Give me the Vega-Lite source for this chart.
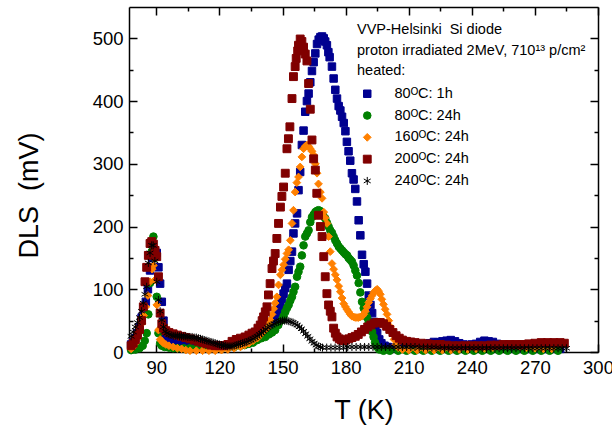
{
"$schema": "https://vega.github.io/schema/vega-lite/v6.json",
"width": 469, "height": 345,
"autosize": {"type": "none"},
"padding": {"left": 129, "top": 7, "right": 14, "bottom": 78},
"background": "white",
"config": {"view": {"stroke": null}, "font": "Liberation Sans",
 "axis": {"grid": false, "zindex": 1, "domainColor": "black", "domainWidth": 1.5, "tickColor": "black", "tickWidth": 1.5, "labelColor": "black", "titleColor": "black", "labelFont": "Liberation Sans", "titleFont": "Liberation Sans", "titleFontWeight": "normal", "labelFlush": false, "labelOverlap": false, "labelBound": false}},
"datasets": {"d": [
{"s":"a","T":78,"v":12},{"s":"a","T":79,"v":16},{"s":"a","T":80,"v":22},{"s":"a","T":81,"v":30},{"s":"a","T":82,"v":40},{"s":"a","T":83,"v":55},{"s":"a","T":84,"v":68},{"s":"a","T":85,"v":80},{"s":"a","T":86,"v":100},{"s":"a","T":87,"v":130},{"s":"a","T":88,"v":150},{"s":"a","T":89,"v":162},{"s":"a","T":90.2,"v":158},{"s":"a","T":91,"v":135},{"s":"a","T":91.8,"v":109},{"s":"a","T":92.6,"v":80},{"s":"a","T":93.4,"v":50},{"s":"a","T":94.2,"v":30},{"s":"a","T":95,"v":22},{"s":"a","T":96,"v":18},{"s":"a","T":98,"v":16},{"s":"a","T":100,"v":15},{"s":"a","T":102,"v":14},{"s":"a","T":104,"v":14},{"s":"a","T":106,"v":13},{"s":"a","T":108,"v":13},{"s":"a","T":110,"v":12},{"s":"a","T":112,"v":11},{"s":"a","T":114,"v":11},{"s":"a","T":116,"v":10},{"s":"a","T":118,"v":10},{"s":"a","T":120,"v":10},{"s":"a","T":122,"v":10},{"s":"a","T":124,"v":10},{"s":"a","T":126,"v":11},{"s":"a","T":128,"v":12},{"s":"a","T":130,"v":13},{"s":"a","T":132,"v":15},{"s":"a","T":134,"v":18},{"s":"a","T":136,"v":22},{"s":"a","T":138,"v":26},{"s":"a","T":139.5,"v":30},{"s":"a","T":141,"v":35},{"s":"a","T":142.5,"v":40},{"s":"a","T":144,"v":46},{"s":"a","T":145.5,"v":52},{"s":"a","T":146.5,"v":56},{"s":"a","T":147.3,"v":59},{"s":"a","T":148.2,"v":68},{"s":"a","T":149,"v":77},{"s":"a","T":149.8,"v":85},{"s":"a","T":150.5,"v":93},{"s":"a","T":151.3,"v":102},{"s":"a","T":152.1,"v":109},{"s":"a","T":152.9,"v":131},{"s":"a","T":153.7,"v":145},{"s":"a","T":154.5,"v":160},{"s":"a","T":155.2,"v":189},{"s":"a","T":156,"v":205},{"s":"a","T":156.9,"v":221},{"s":"a","T":157.6,"v":258},{"s":"a","T":158.4,"v":287},{"s":"a","T":159.2,"v":330},{"s":"a","T":160,"v":353},{"s":"a","T":160.8,"v":383},{"s":"a","T":161.6,"v":400},{"s":"a","T":162.4,"v":412},{"s":"a","T":163.2,"v":430},{"s":"a","T":164,"v":448},{"s":"a","T":164.8,"v":462},{"s":"a","T":165.6,"v":476},{"s":"a","T":166.4,"v":491},{"s":"a","T":167.2,"v":498},{"s":"a","T":168,"v":502},{"s":"a","T":168.8,"v":503},{"s":"a","T":169.6,"v":500},{"s":"a","T":170.3,"v":495},{"s":"a","T":171.1,"v":489},{"s":"a","T":171.8,"v":478},{"s":"a","T":172.4,"v":470},{"s":"a","T":173.5,"v":455},{"s":"a","T":174.3,"v":436},{"s":"a","T":175.1,"v":418},{"s":"a","T":175.9,"v":404},{"s":"a","T":176.7,"v":392},{"s":"a","T":177.5,"v":385},{"s":"a","T":178.3,"v":375},{"s":"a","T":179.1,"v":365},{"s":"a","T":179.9,"v":352},{"s":"a","T":180.6,"v":335},{"s":"a","T":181.4,"v":320},{"s":"a","T":182.2,"v":305},{"s":"a","T":183,"v":285},{"s":"a","T":183.8,"v":275},{"s":"a","T":184.6,"v":260},{"s":"a","T":185.4,"v":240},{"s":"a","T":186.2,"v":210},{"s":"a","T":187,"v":186},{"s":"a","T":187.8,"v":155},{"s":"a","T":188.6,"v":140},{"s":"a","T":189.4,"v":128},{"s":"a","T":190.2,"v":109},{"s":"a","T":191,"v":90},{"s":"a","T":191.8,"v":75},{"s":"a","T":192.6,"v":62},{"s":"a","T":193.4,"v":48},{"s":"a","T":194.2,"v":38},{"s":"a","T":195,"v":30},{"s":"a","T":196,"v":20},{"s":"a","T":197,"v":14},{"s":"a","T":198.5,"v":10},{"s":"a","T":200,"v":8},{"s":"a","T":202,"v":7},{"s":"a","T":204,"v":6},{"s":"a","T":206,"v":6},{"s":"a","T":208,"v":6},{"s":"a","T":210,"v":6},{"s":"a","T":212,"v":6},{"s":"a","T":214,"v":7},{"s":"a","T":216,"v":9},{"s":"a","T":218,"v":12},{"s":"a","T":220,"v":14},{"s":"a","T":222,"v":16},{"s":"a","T":224,"v":15},{"s":"a","T":226,"v":17},{"s":"a","T":228,"v":18},{"s":"a","T":230,"v":19},{"s":"a","T":232,"v":17},{"s":"a","T":234,"v":14},{"s":"a","T":236,"v":12},{"s":"a","T":238,"v":11},{"s":"a","T":240,"v":12},{"s":"a","T":242,"v":13},{"s":"a","T":244,"v":16},{"s":"a","T":246,"v":18},{"s":"a","T":248,"v":17},{"s":"a","T":250,"v":16},{"s":"a","T":252,"v":13},{"s":"a","T":254,"v":11},{"s":"a","T":256,"v":8},{"s":"a","T":258,"v":6},{"s":"a","T":261,"v":5},{"s":"a","T":264,"v":5},{"s":"a","T":267,"v":5},{"s":"a","T":270,"v":5},{"s":"a","T":273,"v":5},{"s":"a","T":276,"v":5},{"s":"a","T":279,"v":5},{"s":"a","T":282,"v":5},
{"s":"b","T":78,"v":3},{"s":"b","T":80,"v":4},{"s":"b","T":82,"v":6},{"s":"b","T":83.5,"v":10},{"s":"b","T":84.5,"v":18},{"s":"b","T":85.4,"v":30},{"s":"b","T":86.2,"v":60},{"s":"b","T":87,"v":110},{"s":"b","T":87.8,"v":160},{"s":"b","T":88.6,"v":184},{"s":"b","T":89.4,"v":150},{"s":"b","T":90.2,"v":88},{"s":"b","T":91,"v":30},{"s":"b","T":91.8,"v":14},{"s":"b","T":92.6,"v":10},{"s":"b","T":94,"v":8},{"s":"b","T":96,"v":7},{"s":"b","T":98,"v":6},{"s":"b","T":100,"v":6},{"s":"b","T":103,"v":6},{"s":"b","T":106,"v":6},{"s":"b","T":109,"v":6},{"s":"b","T":112,"v":6},{"s":"b","T":115,"v":6},{"s":"b","T":118,"v":6},{"s":"b","T":121,"v":6},{"s":"b","T":124,"v":7},{"s":"b","T":127,"v":8},{"s":"b","T":130,"v":10},{"s":"b","T":132,"v":11},{"s":"b","T":134,"v":13},{"s":"b","T":136,"v":15},{"s":"b","T":138,"v":19},{"s":"b","T":140,"v":22},{"s":"b","T":141.8,"v":24},{"s":"b","T":143.5,"v":28},{"s":"b","T":145,"v":31},{"s":"b","T":146.5,"v":35},{"s":"b","T":148,"v":43},{"s":"b","T":149.7,"v":51},{"s":"b","T":150.5,"v":57},{"s":"b","T":151.3,"v":64},{"s":"b","T":152.1,"v":70},{"s":"b","T":152.9,"v":75},{"s":"b","T":153.7,"v":82},{"s":"b","T":154.5,"v":88},{"s":"b","T":155.2,"v":96},{"s":"b","T":156,"v":104},{"s":"b","T":156.9,"v":120},{"s":"b","T":157.6,"v":128},{"s":"b","T":158.4,"v":136},{"s":"b","T":159.2,"v":154},{"s":"b","T":160,"v":170},{"s":"b","T":160.8,"v":184},{"s":"b","T":161.6,"v":189},{"s":"b","T":162.4,"v":194},{"s":"b","T":163.2,"v":207},{"s":"b","T":164,"v":215},{"s":"b","T":164.8,"v":219},{"s":"b","T":165.6,"v":223},{"s":"b","T":166.4,"v":225},{"s":"b","T":167.1,"v":226},{"s":"b","T":167.8,"v":225},{"s":"b","T":168.6,"v":221},{"s":"b","T":169.4,"v":217},{"s":"b","T":170.3,"v":213},{"s":"b","T":171.1,"v":206},{"s":"b","T":171.9,"v":200},{"s":"b","T":172.7,"v":194},{"s":"b","T":173.5,"v":190},{"s":"b","T":174.3,"v":184},{"s":"b","T":175.1,"v":178},{"s":"b","T":175.9,"v":173},{"s":"b","T":176.7,"v":168},{"s":"b","T":177.5,"v":165},{"s":"b","T":178.3,"v":162},{"s":"b","T":179.1,"v":159},{"s":"b","T":179.9,"v":156},{"s":"b","T":180.7,"v":154},{"s":"b","T":181.4,"v":150},{"s":"b","T":182.2,"v":147},{"s":"b","T":183,"v":144},{"s":"b","T":183.8,"v":138},{"s":"b","T":184.6,"v":130},{"s":"b","T":185.4,"v":122},{"s":"b","T":186.2,"v":110},{"s":"b","T":187,"v":95},{"s":"b","T":187.8,"v":80},{"s":"b","T":188.6,"v":70},{"s":"b","T":189.4,"v":62},{"s":"b","T":190.2,"v":55},{"s":"b","T":191,"v":48},{"s":"b","T":191.8,"v":40},{"s":"b","T":192.6,"v":32},{"s":"b","T":193.3,"v":24},{"s":"b","T":194,"v":15},{"s":"b","T":195,"v":8},{"s":"b","T":196,"v":4},{"s":"b","T":198,"v":2},{"s":"b","T":201,"v":2},{"s":"b","T":205,"v":2},{"s":"b","T":209,"v":2},{"s":"b","T":213,"v":2},{"s":"b","T":217,"v":2},{"s":"b","T":221,"v":2},{"s":"b","T":225,"v":2},{"s":"b","T":229,"v":2},{"s":"b","T":233,"v":2},{"s":"b","T":237,"v":2},{"s":"b","T":241,"v":2},{"s":"b","T":245,"v":2},{"s":"b","T":249,"v":2},{"s":"b","T":253,"v":2},{"s":"b","T":257,"v":2},{"s":"b","T":261,"v":2},{"s":"b","T":265,"v":2},{"s":"b","T":269,"v":2},{"s":"b","T":273,"v":2},{"s":"b","T":277,"v":2},{"s":"b","T":281,"v":2},
{"s":"c","T":78,"v":5},{"s":"c","T":79,"v":8},{"s":"c","T":80,"v":14},{"s":"c","T":81,"v":22},{"s":"c","T":82,"v":32},{"s":"c","T":83,"v":45},{"s":"c","T":84,"v":58},{"s":"c","T":85,"v":72},{"s":"c","T":86,"v":90},{"s":"c","T":87,"v":112},{"s":"c","T":88,"v":132},{"s":"c","T":88.6,"v":138},{"s":"c","T":89.4,"v":115},{"s":"c","T":90.2,"v":75},{"s":"c","T":91,"v":35},{"s":"c","T":91.8,"v":20},{"s":"c","T":92.6,"v":17},{"s":"c","T":93.4,"v":14},{"s":"c","T":94.5,"v":12},{"s":"c","T":96,"v":10},{"s":"c","T":98,"v":8},{"s":"c","T":100,"v":6},{"s":"c","T":102,"v":5},{"s":"c","T":104,"v":3},{"s":"c","T":106,"v":2},{"s":"c","T":109,"v":2},{"s":"c","T":112,"v":2},{"s":"c","T":115,"v":2},{"s":"c","T":118,"v":2},{"s":"c","T":121,"v":3},{"s":"c","T":124,"v":4},{"s":"c","T":127,"v":6},{"s":"c","T":130,"v":8},{"s":"c","T":132,"v":11},{"s":"c","T":134,"v":14},{"s":"c","T":136,"v":18},{"s":"c","T":138,"v":22},{"s":"c","T":139.4,"v":27},{"s":"c","T":140.5,"v":32},{"s":"c","T":141.5,"v":35},{"s":"c","T":142.6,"v":38},{"s":"c","T":143.4,"v":45},{"s":"c","T":144.1,"v":51},{"s":"c","T":145,"v":60},{"s":"c","T":145.8,"v":69},{"s":"c","T":146.5,"v":78},{"s":"c","T":147.3,"v":88},{"s":"c","T":148.1,"v":107},{"s":"c","T":149,"v":123},{"s":"c","T":149.7,"v":131},{"s":"c","T":150.5,"v":139},{"s":"c","T":151.3,"v":148},{"s":"c","T":152.1,"v":157},{"s":"c","T":152.9,"v":163},{"s":"c","T":153.7,"v":178},{"s":"c","T":154.5,"v":205},{"s":"c","T":155.2,"v":226},{"s":"c","T":156,"v":255},{"s":"c","T":156.8,"v":270},{"s":"c","T":157.6,"v":279},{"s":"c","T":158.4,"v":295},{"s":"c","T":159.2,"v":311},{"s":"c","T":160,"v":324},{"s":"c","T":160.8,"v":328},{"s":"c","T":161.6,"v":330},{"s":"c","T":162.4,"v":328},{"s":"c","T":163.2,"v":324},{"s":"c","T":164,"v":320},{"s":"c","T":164.8,"v":314},{"s":"c","T":165.6,"v":300},{"s":"c","T":166.4,"v":285},{"s":"c","T":167.1,"v":268},{"s":"c","T":168,"v":255},{"s":"c","T":168.8,"v":245},{"s":"c","T":169.6,"v":223},{"s":"c","T":170.3,"v":214},{"s":"c","T":171.1,"v":205},{"s":"c","T":171.9,"v":184},{"s":"c","T":172.7,"v":160},{"s":"c","T":173.5,"v":141},{"s":"c","T":174.3,"v":132},{"s":"c","T":175.1,"v":123},{"s":"c","T":175.9,"v":115},{"s":"c","T":176.7,"v":105},{"s":"c","T":177.5,"v":96},{"s":"c","T":178.3,"v":86},{"s":"c","T":179.1,"v":77},{"s":"c","T":179.9,"v":72},{"s":"c","T":180.6,"v":68},{"s":"c","T":181.4,"v":64},{"s":"c","T":182.2,"v":60},{"s":"c","T":183,"v":57},{"s":"c","T":183.8,"v":56},{"s":"c","T":184.6,"v":55},{"s":"c","T":185.4,"v":55},{"s":"c","T":186.2,"v":55},{"s":"c","T":187,"v":56},{"s":"c","T":187.8,"v":57},{"s":"c","T":188.6,"v":60},{"s":"c","T":189.4,"v":65},{"s":"c","T":190.2,"v":72},{"s":"c","T":191,"v":79},{"s":"c","T":191.8,"v":85},{"s":"c","T":192.6,"v":90},{"s":"c","T":193.4,"v":95},{"s":"c","T":194.2,"v":98},{"s":"c","T":195,"v":100},{"s":"c","T":195.7,"v":97},{"s":"c","T":196.5,"v":92},{"s":"c","T":197.2,"v":84},{"s":"c","T":198,"v":76},{"s":"c","T":198.8,"v":68},{"s":"c","T":199.7,"v":60},{"s":"c","T":200.5,"v":50},{"s":"c","T":201.3,"v":40},{"s":"c","T":202,"v":30},{"s":"c","T":203,"v":20},{"s":"c","T":204,"v":12},{"s":"c","T":205,"v":7},{"s":"c","T":207,"v":4},{"s":"c","T":210,"v":3},{"s":"c","T":214,"v":3},{"s":"c","T":218,"v":3},{"s":"c","T":222,"v":3},{"s":"c","T":226,"v":3},{"s":"c","T":230,"v":3},{"s":"c","T":234,"v":4},{"s":"c","T":238,"v":4},{"s":"c","T":242,"v":5},{"s":"c","T":246,"v":6},{"s":"c","T":250,"v":7},{"s":"c","T":253,"v":9},{"s":"c","T":255,"v":11},{"s":"c","T":257,"v":10},{"s":"c","T":259,"v":12},{"s":"c","T":261,"v":11},{"s":"c","T":263,"v":9},{"s":"c","T":266,"v":7},{"s":"c","T":270,"v":6},{"s":"c","T":274,"v":5},{"s":"c","T":278,"v":5},
{"s":"d","T":78,"v":10},{"s":"d","T":79,"v":14},{"s":"d","T":80,"v":20},{"s":"d","T":81,"v":27},{"s":"d","T":82,"v":36},{"s":"d","T":83,"v":50},{"s":"d","T":83.8,"v":72},{"s":"d","T":84.6,"v":112},{"s":"d","T":85.4,"v":135},{"s":"d","T":86.2,"v":154},{"s":"d","T":87,"v":173},{"s":"d","T":87.8,"v":176},{"s":"d","T":88.6,"v":172},{"s":"d","T":89.4,"v":162},{"s":"d","T":90.2,"v":152},{"s":"d","T":91,"v":120},{"s":"d","T":91.8,"v":62},{"s":"d","T":92.6,"v":45},{"s":"d","T":93.4,"v":38},{"s":"d","T":94.5,"v":34},{"s":"d","T":96,"v":31},{"s":"d","T":98,"v":29},{"s":"d","T":100,"v":27},{"s":"d","T":102,"v":25},{"s":"d","T":104,"v":23},{"s":"d","T":106,"v":21},{"s":"d","T":108,"v":19},{"s":"d","T":110,"v":17},{"s":"d","T":112,"v":15},{"s":"d","T":114,"v":13},{"s":"d","T":116,"v":11},{"s":"d","T":118,"v":10},{"s":"d","T":120,"v":10},{"s":"d","T":122,"v":10},{"s":"d","T":124,"v":12},{"s":"d","T":126,"v":17},{"s":"d","T":128,"v":20},{"s":"d","T":130,"v":22},{"s":"d","T":132.2,"v":24},{"s":"d","T":134,"v":27},{"s":"d","T":135.5,"v":30},{"s":"d","T":137,"v":32},{"s":"d","T":138.3,"v":38},{"s":"d","T":139.4,"v":43},{"s":"d","T":140.3,"v":50},{"s":"d","T":141,"v":56},{"s":"d","T":141.8,"v":64},{"s":"d","T":142.6,"v":72},{"s":"d","T":143.3,"v":91},{"s":"d","T":144.1,"v":109},{"s":"d","T":145,"v":133},{"s":"d","T":145.7,"v":145},{"s":"d","T":146.5,"v":157},{"s":"d","T":147.3,"v":181},{"s":"d","T":148.1,"v":205},{"s":"d","T":149,"v":231},{"s":"d","T":149.7,"v":248},{"s":"d","T":150.5,"v":263},{"s":"d","T":151.3,"v":285},{"s":"d","T":152.1,"v":324},{"s":"d","T":152.8,"v":340},{"s":"d","T":153.5,"v":359},{"s":"d","T":154.5,"v":404},{"s":"d","T":155.2,"v":439},{"s":"d","T":156,"v":455},{"s":"d","T":156.5,"v":468},{"s":"d","T":157.2,"v":480},{"s":"d","T":157.6,"v":489},{"s":"d","T":158.4,"v":499},{"s":"d","T":159.2,"v":495},{"s":"d","T":160,"v":486},{"s":"d","T":160.8,"v":475},{"s":"d","T":161.6,"v":464},{"s":"d","T":162.4,"v":428},{"s":"d","T":163.2,"v":387},{"s":"d","T":164,"v":338},{"s":"d","T":164.8,"v":308},{"s":"d","T":165.6,"v":290},{"s":"d","T":166.3,"v":253},{"s":"d","T":167.1,"v":218},{"s":"d","T":168,"v":200},{"s":"d","T":168.8,"v":184},{"s":"d","T":169.6,"v":152},{"s":"d","T":170.3,"v":120},{"s":"d","T":171.1,"v":93},{"s":"d","T":171.9,"v":75},{"s":"d","T":172.7,"v":65},{"s":"d","T":173.5,"v":56},{"s":"d","T":174.3,"v":38},{"s":"d","T":175.1,"v":30},{"s":"d","T":175.9,"v":24},{"s":"d","T":177,"v":21},{"s":"d","T":178,"v":19},{"s":"d","T":179,"v":18},{"s":"d","T":180,"v":19},{"s":"d","T":181.5,"v":21},{"s":"d","T":183,"v":23},{"s":"d","T":184.6,"v":25},{"s":"d","T":186,"v":28},{"s":"d","T":187.5,"v":32},{"s":"d","T":189,"v":36},{"s":"d","T":190.5,"v":40},{"s":"d","T":192,"v":43},{"s":"d","T":193.5,"v":46},{"s":"d","T":195,"v":47},{"s":"d","T":196.5,"v":47},{"s":"d","T":198,"v":45},{"s":"d","T":199.5,"v":41},{"s":"d","T":201,"v":36},{"s":"d","T":202.5,"v":31},{"s":"d","T":204,"v":26},{"s":"d","T":205.5,"v":22},{"s":"d","T":207,"v":19},{"s":"d","T":209,"v":17},{"s":"d","T":211,"v":16},{"s":"d","T":213,"v":15},{"s":"d","T":216,"v":14},{"s":"d","T":219,"v":13},{"s":"d","T":222,"v":12},{"s":"d","T":225,"v":12},{"s":"d","T":228,"v":11},{"s":"d","T":231,"v":10},{"s":"d","T":234,"v":10},{"s":"d","T":237,"v":10},{"s":"d","T":240,"v":10},{"s":"d","T":243,"v":10},{"s":"d","T":246,"v":10},{"s":"d","T":249,"v":11},{"s":"d","T":252,"v":11},{"s":"d","T":255,"v":12},{"s":"d","T":258,"v":12},{"s":"d","T":261,"v":12},{"s":"d","T":264,"v":12},{"s":"d","T":267,"v":13},{"s":"d","T":270,"v":14},{"s":"d","T":273,"v":15},{"s":"d","T":276,"v":15},{"s":"d","T":279,"v":15},{"s":"d","T":282,"v":15},{"s":"d","T":284,"v":14},
{"s":"e","T":78,"v":25},{"s":"e","T":79,"v":32},{"s":"e","T":80,"v":40},{"s":"e","T":81,"v":47},{"s":"e","T":82,"v":55},{"s":"e","T":83,"v":65},{"s":"e","T":83.8,"v":78},{"s":"e","T":84.6,"v":92},{"s":"e","T":85.4,"v":104},{"s":"e","T":86.2,"v":142},{"s":"e","T":87,"v":158},{"s":"e","T":87.8,"v":170},{"s":"e","T":88.5,"v":170},{"s":"e","T":89.3,"v":145},{"s":"e","T":90.2,"v":112},{"s":"e","T":91,"v":83},{"s":"e","T":91.8,"v":65},{"s":"e","T":92.6,"v":51},{"s":"e","T":93.4,"v":40},{"s":"e","T":94.2,"v":33},{"s":"e","T":95,"v":30},{"s":"e","T":96,"v":28},{"s":"e","T":97,"v":27},{"s":"e","T":98,"v":26},{"s":"e","T":99,"v":26},{"s":"e","T":100,"v":26},{"s":"e","T":101,"v":25},{"s":"e","T":102,"v":25},{"s":"e","T":103,"v":25},{"s":"e","T":104,"v":25},{"s":"e","T":105,"v":24},{"s":"e","T":106,"v":24},{"s":"e","T":107,"v":24},{"s":"e","T":108,"v":23},{"s":"e","T":109,"v":23},{"s":"e","T":110,"v":22},{"s":"e","T":111,"v":21},{"s":"e","T":112,"v":20},{"s":"e","T":113,"v":19},{"s":"e","T":114,"v":18},{"s":"e","T":115,"v":17},{"s":"e","T":116,"v":16},{"s":"e","T":117,"v":15},{"s":"e","T":118,"v":14},{"s":"e","T":119,"v":13},{"s":"e","T":120,"v":12},{"s":"e","T":121,"v":11},{"s":"e","T":122,"v":10},{"s":"e","T":123,"v":10},{"s":"e","T":124,"v":9},{"s":"e","T":125,"v":9},{"s":"e","T":126,"v":9},{"s":"e","T":127,"v":10},{"s":"e","T":128,"v":11},{"s":"e","T":129,"v":12},{"s":"e","T":130,"v":13},{"s":"e","T":131,"v":14},{"s":"e","T":132,"v":15},{"s":"e","T":133,"v":16},{"s":"e","T":134,"v":18},{"s":"e","T":135,"v":19},{"s":"e","T":136,"v":21},{"s":"e","T":137,"v":23},{"s":"e","T":138,"v":25},{"s":"e","T":139,"v":28},{"s":"e","T":140,"v":30},{"s":"e","T":141,"v":33},{"s":"e","T":142,"v":36},{"s":"e","T":143,"v":39},{"s":"e","T":144,"v":41},{"s":"e","T":145,"v":43},{"s":"e","T":146,"v":45},{"s":"e","T":147,"v":47},{"s":"e","T":148,"v":48},{"s":"e","T":149,"v":49},{"s":"e","T":150,"v":50},{"s":"e","T":151,"v":50},{"s":"e","T":152,"v":50},{"s":"e","T":153,"v":49},{"s":"e","T":154,"v":48},{"s":"e","T":155,"v":47},{"s":"e","T":156,"v":45},{"s":"e","T":157,"v":43},{"s":"e","T":158,"v":40},{"s":"e","T":159,"v":37},{"s":"e","T":160,"v":33},{"s":"e","T":161,"v":29},{"s":"e","T":162,"v":25},{"s":"e","T":163,"v":21},{"s":"e","T":164,"v":17},{"s":"e","T":165,"v":14},{"s":"e","T":166,"v":11},{"s":"e","T":167,"v":9},{"s":"e","T":168,"v":8},{"s":"e","T":169,"v":7},{"s":"e","T":171,"v":7},{"s":"e","T":173,"v":7},{"s":"e","T":175,"v":7},{"s":"e","T":177,"v":7},{"s":"e","T":179,"v":7},{"s":"e","T":181,"v":8},{"s":"e","T":183,"v":8},{"s":"e","T":185,"v":8},{"s":"e","T":187,"v":8},{"s":"e","T":189,"v":8},{"s":"e","T":191,"v":8},{"s":"e","T":193,"v":8},{"s":"e","T":195,"v":8},{"s":"e","T":197,"v":8},{"s":"e","T":199,"v":8},{"s":"e","T":201,"v":8},{"s":"e","T":203,"v":8},{"s":"e","T":205,"v":8},{"s":"e","T":207,"v":8},{"s":"e","T":209,"v":8},{"s":"e","T":211,"v":8},{"s":"e","T":213,"v":8},{"s":"e","T":215,"v":7},{"s":"e","T":217,"v":7},{"s":"e","T":219,"v":7},{"s":"e","T":221,"v":7},{"s":"e","T":223,"v":7},{"s":"e","T":225,"v":6},{"s":"e","T":227,"v":6},{"s":"e","T":229,"v":6},{"s":"e","T":231,"v":6},{"s":"e","T":233,"v":6},{"s":"e","T":235,"v":6},{"s":"e","T":237,"v":6},{"s":"e","T":239,"v":6},{"s":"e","T":241,"v":6},{"s":"e","T":243,"v":6},{"s":"e","T":245,"v":6},{"s":"e","T":247,"v":6},{"s":"e","T":249,"v":6},{"s":"e","T":251,"v":6},{"s":"e","T":253,"v":6},{"s":"e","T":255,"v":6},{"s":"e","T":257,"v":6},{"s":"e","T":259,"v":6},{"s":"e","T":261,"v":6},{"s":"e","T":263,"v":6},{"s":"e","T":265,"v":6},{"s":"e","T":267,"v":6},{"s":"e","T":269,"v":6},{"s":"e","T":271,"v":6},{"s":"e","T":273,"v":6},{"s":"e","T":275,"v":6},{"s":"e","T":277,"v":6},{"s":"e","T":279,"v":6},{"s":"e","T":281,"v":6},{"s":"e","T":283,"v":6},{"s":"e","T":285,"v":6}
]},
"data": {"name": "d"},
"resolve": {"axis": {"x": "independent", "y": "independent"}},
"layer": [
 {"mark": {"type": "point", "filled": true, "opacity": 1},
  "encoding": {
   "x": {"field": "T", "type": "quantitative", "scale": {"domain": [77, 300], "nice": false, "zero": false},
     "axis": {"orient": "bottom", "values": [90,105,120,135,150,165,180,195,210,225,240,255,270,285,300], "labelExpr": "datum.value % 30 == 0 ? datum.label : ''", "tickSize": {"condition": {"test": "datum.value % 30 == 0", "value": -8}, "value": -4}, "labelPadding": 14, "labelFontSize": 18.5, "title": "T (K)", "titleFontSize": 27, "titlePadding": 17}},
   "y": {"field": "v", "type": "quantitative", "scale": {"domain": [0, 550], "nice": false},
     "axis": {"orient": "left", "values": [0,50,100,150,200,250,300,350,400,450,500], "labelExpr": "datum.value % 100 == 0 ? datum.label : ''", "tickSize": {"condition": {"test": "datum.value % 100 == 0", "value": -8}, "value": -4}, "labelPadding": 14, "labelFontSize": 18.5, "title": "DLS\u00a0\u00a0(mV)", "titleFontSize": 27, "titlePadding": 49, "titleY": 188}},
   "color": {"field": "s", "type": "nominal", "scale": {"domain": ["a","b","c","d","e"], "range": ["#000090","#008000","#FF8000","#800000","#000000"]},
     "legend": {"orient": "none", "legendX": 228, "legendY": 16, "title": ["VVP-Helsinki\u00a0\u00a0Si diode", "proton irradiated 2MeV, 710\u00b9\u00b3 p/cm\u00b2", "heated:"], "titleFontSize": 14.5, "titleFontWeight": "normal", "titleLineHeight": 20.5, "titleFont": "Liberation Sans", "titleColor": "black", "titleLimit": 400, "titlePadding": 8, "labelFont": "Liberation Sans", "labelFontSize": 14.5, "labelColor": "black", "labelOffset": 20, "symbolOffset": 3, "rowPadding": 6.8, "padding": 0,
       "labelExpr": "datum.label == 'a' ? '80\u1d3cC: 1h' : datum.label == 'b' ? '80\u1d3cC: 24h' : datum.label == 'c' ? '160\u1d3cC: 24h' : datum.label == 'd' ? '200\u1d3cC: 24h' : '240\u1d3cC: 24h'"}},
   "stroke": {"field": "s", "type": "nominal", "scale": {"domain": ["a","b","c","d","e"], "range": ["#000090","#008000","#FF8000","#800000","#000000"]}},
   "strokeWidth": {"field": "s", "type": "nominal", "scale": {"domain": ["a","b","c","d","e"], "range": [1, 1, 1, 1, 1.7]}},
   "shape": {"field": "s", "type": "nominal", "scale": {"domain": ["a","b","c","d","e"], "range": ["square","circle","diamond","square","M0,-1L0,1M-0.87,-0.5L0.87,0.5M-0.87,0.5L0.87,-0.5"]}},
   "size": {"field": "s", "type": "ordinal", "scale": {"domain": ["a","b","c","d","e"], "range": [56, 64, 100, 56, 120]}}
  }},
 {"mark": {"type": "point", "opacity": 0},
  "encoding": {
   "x": {"field": "T", "type": "quantitative", "axis": {"orient": "top", "values": [90,105,120,135,150,165,180,195,210,225,240,255,270,285,300], "labels": false, "title": null, "tickSize": {"condition": {"test": "datum.value % 30 == 0", "value": -8}, "value": -4}}},
   "y": {"field": "v", "type": "quantitative", "axis": {"orient": "right", "values": [0,50,100,150,200,250,300,350,400,450,500], "labels": false, "title": null, "tickSize": {"condition": {"test": "datum.value % 100 == 0", "value": -8}, "value": -4}}}
  }}
]
}
